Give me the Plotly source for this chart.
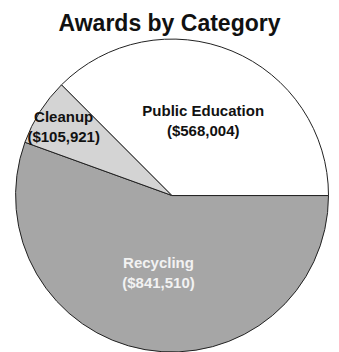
import plotly.graph_objects as go

categories = ["Recycling", "Cleanup", "Public Education"]
values = [841510, 105921, 568004]
value_labels = ["($841,510)", "($105,921)", "($568,004)"]
colors = ["#a6a6a6", "#d4d4d4", "#ffffff"]
text_colors = ["#f2f2f2", "#111111", "#111111"]

texts = [f"<b>{c}<br>{v}</b>" for c, v in zip(categories, value_labels)]

fig = go.Figure(go.Pie(
    labels=categories,
    values=values,
    text=texts,
    textinfo="text",
    textposition="inside",
    insidetextorientation="horizontal",
    sort=False,
    direction="clockwise",
    rotation=90,
    marker=dict(colors=colors, line=dict(color="#222222", width=1)),
    textfont=dict(family="Liberation Sans, Arial, sans-serif", size=15, color=text_colors),
    domain=dict(x=[0.044, 0.971], y=[0.0, 0.889]),
    showlegend=False,
    hoverinfo="label+value",
))

fig.update_layout(
    width=339, height=352,
    margin=dict(l=0, r=0, t=0, b=0),
    paper_bgcolor="white",
    title=dict(text="<b>Awards by Category</b>", x=0.5, xanchor="center", y=0.935, yanchor="middle",
               font=dict(family="Liberation Sans, Arial, sans-serif", size=23, color="#111111")),
    uniformtext=dict(minsize=15, mode="show"),
)

fig.write_html("out.html")
